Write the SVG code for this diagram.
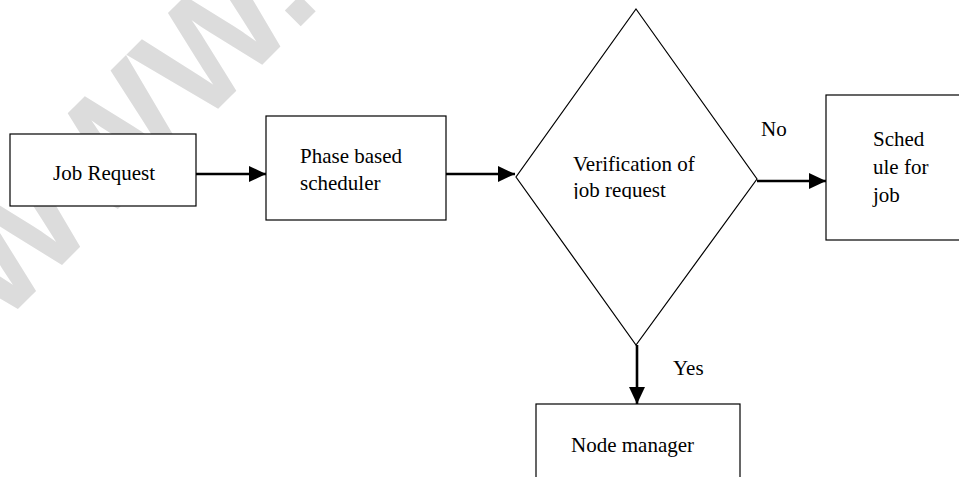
<svg xmlns="http://www.w3.org/2000/svg" width="959" height="477" viewBox="0 0 959 477">
<style>
.box{fill:#fff;stroke:#000;stroke-width:1.2}
.t{font-family:'Liberation Serif','Times New Roman','DejaVu Serif',serif;font-size:21px;fill:#000}
.c{stroke:#000;stroke-width:2.6;fill:none}
.wm{font-family:'Liberation Sans',Arial,sans-serif;font-size:150px;font-weight:bold;fill:#dcdcdc}
</style>
<defs>
<marker id="ah" markerUnits="userSpaceOnUse" markerWidth="18" markerHeight="16" refX="17" refY="8" orient="auto">
<path d="M0,0 L17,8 L0,16 Z" fill="#000"/>
</marker>
<clipPath id="dclip"><rect x="500" y="0" width="300" height="199"/></clipPath>
</defs>
<rect width="959" height="477" fill="#fff"/>
<text class="wm" transform="translate(-1,328) rotate(-45)">WWW.</text>
<g id="job-request">
<rect class="box" x="10" y="134" width="186" height="72"/>
<text class="t" x="53" y="180">Job Request</text>
</g>
<g id="phase-scheduler">
<rect class="box" x="266" y="116" width="180" height="104"/>
<text class="t" x="300" y="163">Phase based</text>
<text class="t" x="300" y="190">scheduler</text>
</g>
<g id="verification">
<polygon class="box" points="636,9 757,179 636,345 516,177"/>
<g clip-path="url(#dclip)">
<text class="t" x="573" y="171">Verification of</text>
<text class="t" x="573" y="197">job request</text>
</g>
</g>
<g id="schedule-job">
<rect class="box" x="826" y="95" width="140" height="145"/>
<text class="t" x="873" y="146">Sched</text>
<text class="t" x="873" y="174">ule for</text>
<text class="t" x="873" y="202">job</text>
</g>
<g id="node-manager">
<rect class="box" x="536" y="404" width="204" height="90"/>
<text class="t" x="571" y="452">Node manager</text>
</g>
<g id="connectors">
<line class="c" x1="196" y1="174" x2="266" y2="174" marker-end="url(#ah)"/>
<line class="c" x1="446" y1="174" x2="515" y2="174" marker-end="url(#ah)"/>
<line class="c" x1="757" y1="181" x2="826" y2="181" marker-end="url(#ah)"/>
<line class="c" x1="637" y1="345" x2="637" y2="404" marker-end="url(#ah)"/>
<text class="t" x="761" y="136">No</text>
<text class="t" x="673" y="375">Yes</text>
</g>
</svg>
